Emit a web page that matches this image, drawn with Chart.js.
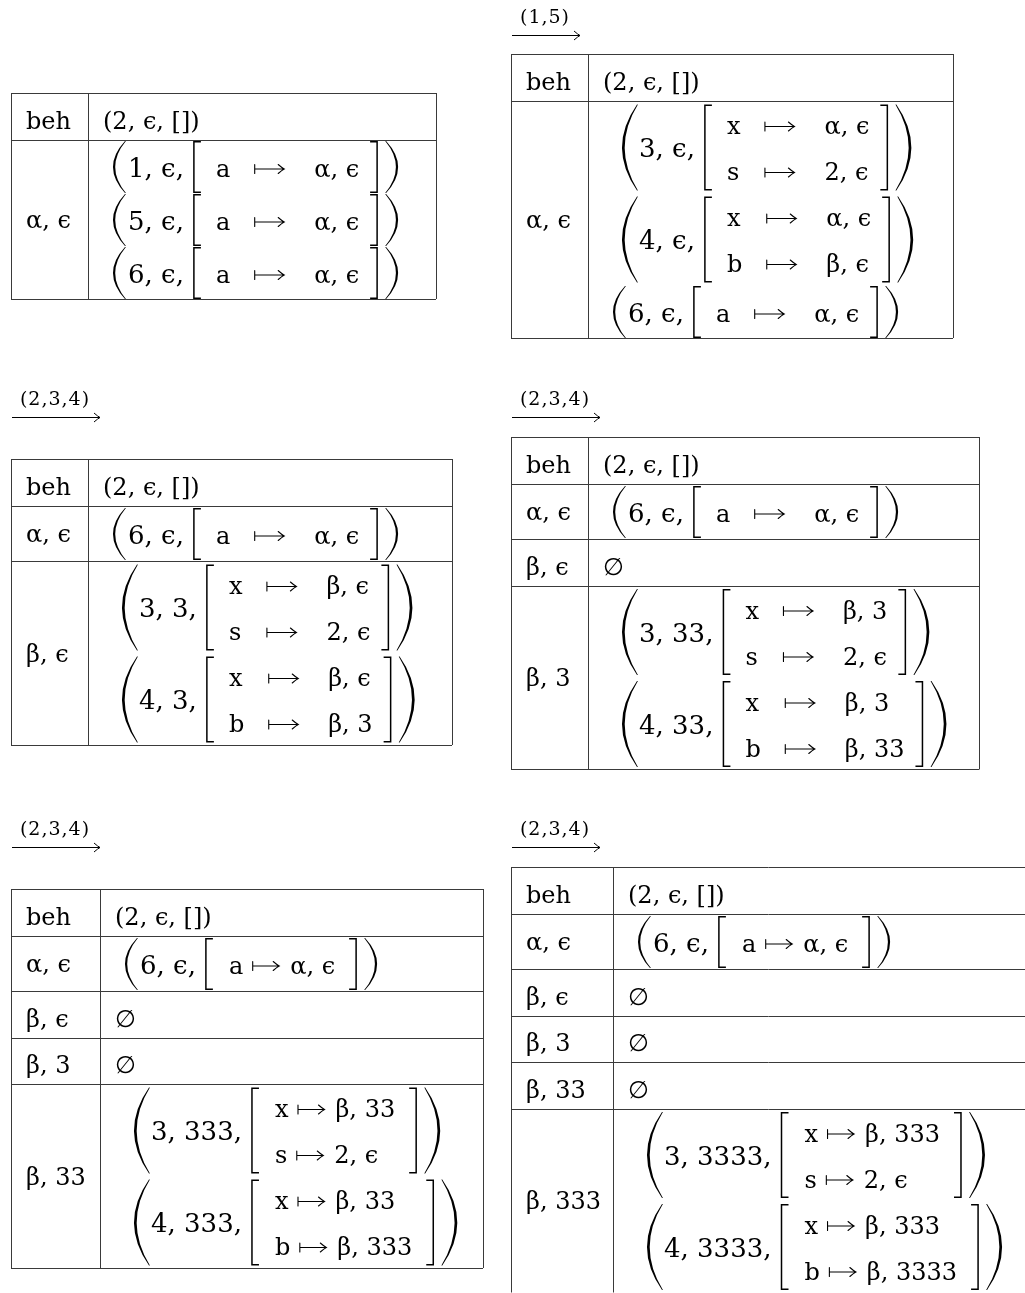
<!DOCTYPE html>
<html><head><meta charset="utf-8">
<script src="https://cdn.jsdelivr.net/npm/chart.js@4"></script>
<style>html,body{margin:0;padding:0;background:#fff;overflow:hidden}canvas{display:block}</style>
</head><body>
<canvas id="c" width="1025" height="1293"></canvas>
<script>
// ---------------- data ----------------
const transitionLabels = ["(1,5)", "(2,3,4)", "(2,3,4)", "(2,3,4)", "(2,3,4)"];
const headerLabel = "beh";
const headerValue = "(2, ϵ, [])";
const EMPTY = "∅";

const state1Labels = ["α, ϵ"];
const state1Cells = [
  [["1", "ϵ", [["a", "α, ϵ"]]], ["5", "ϵ", [["a", "α, ϵ"]]], ["6", "ϵ", [["a", "α, ϵ"]]]]
];
const state2Labels = ["α, ϵ"];
const state2Cells = [
  [["3", "ϵ", [["x", "α, ϵ"], ["s", "2, ϵ"]]], ["4", "ϵ", [["x", "α, ϵ"], ["b", "β, ϵ"]]], ["6", "ϵ", [["a", "α, ϵ"]]]]
];
const state3Labels = ["α, ϵ", "β, ϵ"];
const state3Cells = [
  [["6", "ϵ", [["a", "α, ϵ"]]]],
  [["3", "3", [["x", "β, ϵ"], ["s", "2, ϵ"]]], ["4", "3", [["x", "β, ϵ"], ["b", "β, 3"]]]]
];
const state4Labels = ["α, ϵ", "β, ϵ", "β, 3"];
const state4Cells = [
  [["6", "ϵ", [["a", "α, ϵ"]]]],
  EMPTY,
  [["3", "33", [["x", "β, 3"], ["s", "2, ϵ"]]], ["4", "33", [["x", "β, 3"], ["b", "β, 33"]]]]
];
const state5Labels = ["α, ϵ", "β, ϵ", "β, 3", "β, 33"];
const state5Cells = [
  [["6", "ϵ", [["a", "α, ϵ"]]]],
  EMPTY, EMPTY,
  [["3", "333", [["x", "β, 33"], ["s", "2, ϵ"]]], ["4", "333", [["x", "β, 33"], ["b", "β, 333"]]]]
];
const state6Labels = ["α, ϵ", "β, ϵ", "β, 3", "β, 33", "β, 333"];
const state6Cells = [
  [["6", "ϵ", [["a", "α, ϵ"]]]],
  EMPTY, EMPTY, EMPTY,
  [["3", "3333", [["x", "β, 333"], ["s", "2, ϵ"]]], ["4", "3333", [["x", "β, 333"], ["b", "β, 3333"]]]]
];

// ---------------- layout (positions / sizes / styles) ----------------
const panels = [
  { labels: state1Labels, cells: state1Cells, x: 11,  y: 93,  w: 425, lw: 77,  compact: false, arrow: null },
  { labels: state2Labels, cells: state2Cells, x: 511, y: 54,  w: 442, lw: 77,  compact: false, arrow: { x1: 512, x2: 580, y: 35,  t: 0 } },
  { labels: state3Labels, cells: state3Cells, x: 11,  y: 459, w: 441, lw: 77,  compact: false, arrow: { x1: 12,  x2: 100, y: 417, t: 1 } },
  { labels: state4Labels, cells: state4Cells, x: 511, y: 437, w: 468, lw: 77,  compact: false, arrow: { x1: 512, x2: 600, y: 417, t: 2 } },
  { labels: state5Labels, cells: state5Cells, x: 11,  y: 889, w: 472, lw: 89,  compact: true,  arrow: { x1: 12,  x2: 100, y: 847, t: 3 } },
  { labels: state6Labels, cells: state6Cells, x: 511, y: 867, w: 560, lw: 102, compact: true,  arrow: { x1: 512, x2: 600, y: 847, t: 4 } }
];
const FS = 24, HEAD_FS = 26, ARROW_FS = 19;
const SERIF = "'DejaVu Serif', 'Liberation Serif', serif";
const font = sz => sz + "px " + SERIF;
const LINE_COLOR = "#3a3a3a";

const tablesPlugin = {
  id: "tables",
  afterDraw(chart) {
    const ctx = chart.ctx;
    const X = v => chart.scales.x.getPixelForValue(v);
    const Y = v => chart.scales.y.getPixelForValue(v);
    const unit = X(1) - X(0);
    const W = (s, sz) => { ctx.font = font(sz); return ctx.measureText(s).width / unit; };
    const asc = (s, sz) => { ctx.font = font(sz); return ctx.measureText(s).actualBoundingBoxAscent / unit; };

    ctx.save();
    ctx.fillStyle = "#000";
    ctx.textBaseline = "alphabetic";
    const xh = asc("x", FS);
    const digH = asc("3", HEAD_FS);

    function text(s, x, y, sz, align) {
      ctx.font = font(sz); ctx.textAlign = align || "left";
      ctx.fillText(s, X(x), Y(y));
    }
    function crisp(v) { return Math.round(v) + 0.5; }
    function hline(x1, x2, y) {
      ctx.beginPath(); ctx.moveTo(X(x1), crisp(Y(y))); ctx.lineTo(X(x2), crisp(Y(y))); ctx.stroke();
    }
    function vline(x, y1, y2) {
      ctx.beginPath(); ctx.moveTo(crisp(X(x)), Y(y1)); ctx.lineTo(crisp(X(x)), Y(y2)); ctx.stroke();
    }
    // big parenthesis: x0 = extreme bulge point
    function paren(x0, cy, h, w, t, side) {
      const s = side === "left" ? 1 : -1;
      const top = cy - h / 2, bot = cy + h / 2;
      const xe = x0 + s * w;
      ctx.beginPath();
      ctx.moveTo(X(xe), Y(top));
      ctx.quadraticCurveTo(X(x0 - s * w), Y(cy), X(xe), Y(bot));
      ctx.lineTo(X(xe + s * 0.9), Y(bot));
      ctx.quadraticCurveTo(X(2 * (x0 + s * t) - xe - s * 0.9), Y(cy), X(xe + s * 0.9), Y(top));
      ctx.closePath();
      ctx.fill();
    }
    function bracket(x, cy, h, side) {
      const s = side === "left" ? 1 : -1, tick = 7;
      ctx.save();
      ctx.lineWidth = 1.5; ctx.strokeStyle = "#000"; ctx.lineCap = "butt"; ctx.lineJoin = "miter";
      ctx.beginPath();
      ctx.moveTo(X(x + s * tick), Y(cy - h / 2 + 0.8));
      ctx.lineTo(X(x), Y(cy - h / 2 + 0.8));
      ctx.lineTo(X(x), Y(cy + h / 2 - 0.8));
      ctx.lineTo(X(x + s * tick), Y(cy + h / 2 - 0.8));
      ctx.stroke();
      ctx.restore();
    }
    // thin "maps to" arrow
    function mapsto(x, cy, w) {
      ctx.save();
      ctx.strokeStyle = "#000"; ctx.lineWidth = 1.1; ctx.lineCap = "round";
      const yy = Y(cy - 1) ;
      ctx.beginPath();
      ctx.moveTo(X(x + 0.5), yy - 4.5); ctx.lineTo(X(x + 0.5), yy + 4.5);
      ctx.moveTo(X(x + 0.5), yy); ctx.lineTo(X(x + w), yy);
      ctx.moveTo(X(x + w - 6), yy - 4.5);
      ctx.quadraticCurveTo(X(x + w - 2), yy - 1, X(x + w), yy);
      ctx.quadraticCurveTo(X(x + w - 2), yy + 1, X(x + w - 6), yy + 4.5);
      ctx.stroke();
      ctx.restore();
    }
    function tuple(t, x0, slotTop, compact) {
      const dbl = t[2].length > 1;
      const cy = slotTop + (dbl ? 46.5 : 27);
      const ph = dbl ? 86 : 52, pw = dbl ? 15 : 12, pt = dbl ? 2.7 : 2.2;
      paren(x0, cy, ph, pw, pt, "left");
      const head = t[0] + ", " + t[1] + ",";
      const hx = x0 + pw + (dbl ? 2 : 3);
      text(head, hx, cy + digH / 2, HEAD_FS);
      const bx = hx + W(head, HEAD_FS) + 10;
      bracket(bx, cy, ph, "left");
      const rowsY = dbl ? [cy - 20, cy + 26] : [cy + 3];
      let rb;
      if (!compact) {
        const kx = bx + 22;
        const kw = Math.max(...t[2].map(r => W(r[0], FS)));
        const ax = kx + kw + 24, aw = 30;
        const vx = ax + aw + 30;
        const vw = Math.max(...t[2].map(r => W(r[1], FS)));
        t[2].forEach((r, i) => {
          text(r[0], kx, rowsY[i] + xh / 2, FS);
          mapsto(ax, rowsY[i], aw);
          text(r[1], vx, rowsY[i] + xh / 2, FS);
        });
        rb = vx + vw + 18;
      } else {
        const kx = bx + 23;
        let maxEnd = kx;
        t[2].forEach((r, i) => {
          text(r[0], kx, rowsY[i] + xh / 2, FS);
          const ax = kx + W(r[0], FS) + 9, aw = 27;
          mapsto(ax, rowsY[i], aw);
          const vx = ax + aw + 11;
          text(r[1], vx, rowsY[i] + xh / 2, FS);
          maxEnd = Math.max(maxEnd, vx + W(r[1], FS));
        });
        rb = maxEnd + 21;
      }
      bracket(rb, cy, ph, "right");
      paren(rb + 9 + pw, cy, ph, pw, pt, "right");
      return dbl ? 92 : 53;
    }
    function rowHeight(r) {
      if (typeof r.cell === "string") return r.header ? 47 : 46.5;
      let h = 0;
      r.cell.forEach(t => { h += t[2].length > 1 ? 92 : 53; });
      return r.cell.length === 1 ? h + 2 : h;
    }
    function table(p) {
      const rows = [{ label: headerLabel, cell: headerValue, header: true }]
        .concat(p.labels.map((l, i) => ({ label: l, cell: p.cells[i] })));
      const div = p.x + p.lw;
      let y = p.y;
      const seps = [];
      rows.forEach(r => {
        const h = rowHeight(r), top = y, bot = y + h;
        if (typeof r.cell === "string") {
          text(r.label, p.x + 15, bot - 11, FS);
          text(r.cell, div + 15, bot - 11, FS);
        } else {
          text(r.label, p.x + 15, (top + bot) / 2 + xh / 2 + 2, FS);
          let st = top + (r.cell.length === 1 ? 1 : 0);
          r.cell.forEach(t => {
            const dbl = t[2].length > 1;
            st += tuple(t, div + (dbl ? 34 : 25), st, p.compact);
          });
        }
        y = bot;
        seps.push(bot);
      });
      ctx.save();
      ctx.strokeStyle = LINE_COLOR; ctx.lineWidth = 1;
      hline(p.x, p.x + p.w, p.y);
      seps.forEach(s => hline(p.x, p.x + p.w, s));
      vline(p.x, p.y, y);
      vline(div, p.y, y);
      vline(p.x + p.w, p.y, y);
      ctx.restore();
    }
    function transition(a) {
      ctx.save();
      ctx.strokeStyle = "#000"; ctx.lineWidth = 1;
      ctx.beginPath();
      ctx.moveTo(X(a.x1), crisp(Y(a.y))); ctx.lineTo(X(a.x2), crisp(Y(a.y)));
      ctx.stroke();
      ctx.beginPath();
      ctx.moveTo(X(a.x2 - 6), Y(a.y - 4.5) + 0.5);
      ctx.quadraticCurveTo(X(a.x2 - 2), Y(a.y - 1) + 0.5, X(a.x2), Y(a.y) + 0.5);
      ctx.quadraticCurveTo(X(a.x2 - 2), Y(a.y + 1) + 0.5, X(a.x2 - 6), Y(a.y + 4.5) + 0.5);
      ctx.stroke();
      ctx.letterSpacing = "1px";
      text(transitionLabels[a.t], (a.x1 + a.x2) / 2 - 1, a.y - 12, ARROW_FS, "center");
      ctx.letterSpacing = "0px";
      ctx.restore();
    }

    panels.forEach(p => {
      table(p);
      if (p.arrow) transition(p.arrow);
    });
    ctx.restore();
  }
};

new Chart(document.getElementById("c"), {
  type: "scatter",
  data: { datasets: [{ data: [], pointRadius: 0 }] },
  options: {
    responsive: false,
    animation: false,
    layout: { padding: 0 },
    plugins: { legend: { display: false }, tooltip: { enabled: false } },
    scales: {
      x: { type: "linear", min: 0, max: 1025, display: false },
      y: { type: "linear", min: 0, max: 1293, reverse: true, display: false }
    }
  },
  plugins: [tablesPlugin]
});
</script>
</body></html>
